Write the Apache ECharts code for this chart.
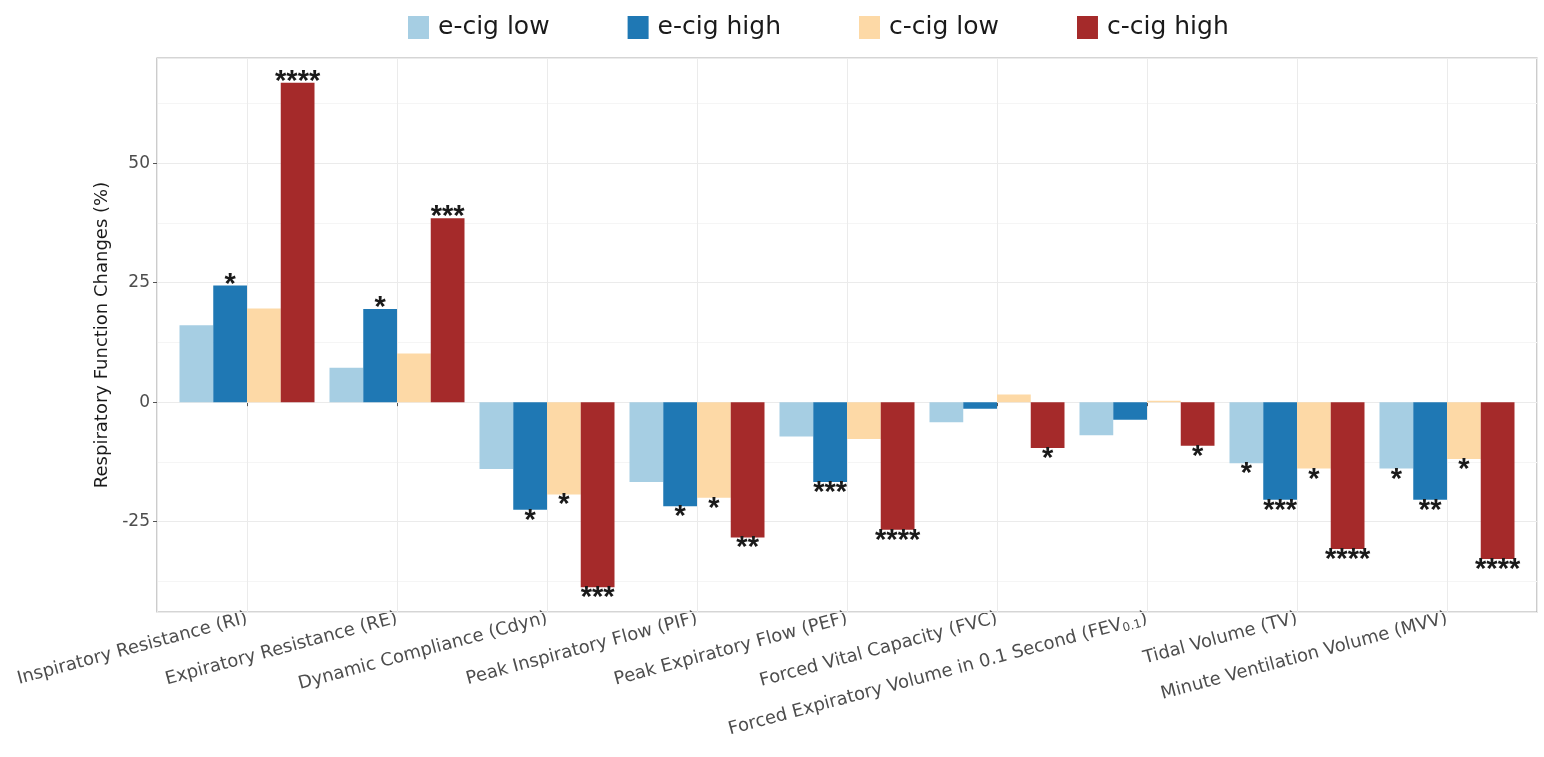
<!DOCTYPE html>
<html>
<head>
<meta charset="utf-8">
<script src="https://cdn.jsdelivr.net/npm/echarts@6/dist/echarts.min.js"></script>
<style>html,body{margin:0;padding:0;background:#fff;}#c{width:1544px;height:757px;}</style>
</head>
<body>
<div id="c"></div>
<script>
const categories = [
  'Inspiratory Resistance (RI)',
  'Expiratory Resistance (RE)',
  'Dynamic Compliance (Cdyn)',
  'Peak Inspiratory Flow (PIF)',
  'Peak Expiratory Flow (PEF)',
  'Forced Vital Capacity (FVC)',
  'Forced Expiratory Volume in 0.1 Second (FEV{sub|0.1})',
  'Tidal Volume (TV)',
  'Minute Ventilation Volume (MVV)'
];
const seriesNames = ['e-cig low', 'e-cig high', 'c-cig low', 'c-cig high'];
const eCigLow  = [16.1, 7.2, -14.0, -16.7, -7.2, -4.2, -6.9, -12.8, -13.9];
const eCigHigh = [24.4, 19.5, -22.5, -21.8, -16.7, -1.4, -3.7, -20.4, -20.4];
const cCigLow  = [19.6, 10.2, -19.3, -20.0, -7.7, 1.6, 0.3, -13.9, -11.9];
const cCigHigh = [66.8, 38.5, -38.7, -28.3, -26.7, -9.6, -9.1, -30.7, -32.8];
const eCigLowStars  = ['', '', '', '', '', '', '', '*', '*'];
const eCigHighStars = ['*', '*', '*', '*', '***', '', '', '***', '**'];
const cCigLowStars  = ['', '', '*', '*', '', '', '', '*', '*'];
const cCigHighStars = ['****', '***', '***', '**', '****', '*', '*', '****', '****'];
const colors = ['#a6cee3', '#1f78b4', '#fdd9a6', '#a52a2a'];

const values = [eCigLow, eCigHigh, cCigLow, cCigHigh];
const stars = [eCigLowStars, eCigHighStars, cCigLowStars, cCigHighStars];

const starStyle = {fontFamily: 'Liberation Sans', fontWeight: 'bold', fontSize: 29, color: '#1a1a1a', lineHeight: 12};

function makeData(vals, st) {
  return vals.map((v, i) => ({
    value: [i + 1, v],
    label: {
      show: st[i] !== '',
      position: v >= 0 ? 'top' : 'bottom',
      distance: v >= 0 ? -5 : 5,
      formatter: st[i],
      ...starStyle
    }
  }));
}

const chart = echarts.init(document.getElementById('c'), null, {renderer: 'canvas'});
chart.setOption({
  animation: false,
  color: colors,
  legend: {
    top: 10, left: 403, icon: 'rect', itemWidth: 21, itemHeight: 23, itemGap: 78,
    textStyle: {fontFamily: 'DejaVu Sans', fontSize: 25, color: '#1a1a1a', padding: [0, 0, 0, 4]},
    data: seriesNames
  },
  grid: {left: 157, right: 7, top: 58, bottom: 145, show: true, borderColor: '#ababab', borderWidth: 1.2, backgroundColor: 'transparent'},
  xAxis: {
    type: 'value', min: 0.4, max: 9.6, minInterval: 1, maxInterval: 1,
    axisLine: {show: false},
    axisTick: {show: true, length: 4, lineStyle: {color: '#555'}},
    splitLine: {show: true, lineStyle: {color: '#ebebeb', width: 1}},
    axisLabel: {
      rotate: 15, margin: 6, showMinLabel: false, showMaxLabel: false,
      fontFamily: 'DejaVu Sans', fontSize: 18, color: '#4d4d4d',
      formatter: v => (Math.abs(v - Math.round(v)) < 1e-6 && v >= 1 && v <= 9) ? categories[Math.round(v) - 1] : '',
      rich: {sub: {fontFamily: 'DejaVu Sans', fontSize: 12, color: '#4d4d4d', padding: [8, 0, 0, 0]}}
    }
  },
  yAxis: [{
    type: 'value', min: -43.9, max: 72, minInterval: 25, maxInterval: 25, z: 1,
    name: 'Respiratory Function Changes (%)', nameLocation: 'middle', nameGap: 41,
    nameTextStyle: {fontFamily: 'DejaVu Sans', fontSize: 18, color: '#1a1a1a'},
    axisLine: {show: false},
    axisTick: {show: true, length: 4, lineStyle: {color: '#555'}},
    splitLine: {show: true, lineStyle: {color: '#ebebeb', width: 1}},
    axisLabel: {
      margin: 7, fontFamily: 'DejaVu Sans', fontSize: 17, color: '#4d4d4d',
      showMinLabel: false, showMaxLabel: false,
      formatter: v => (v % 25 === 0) ? String(v) : ''
    }
  }, {
    type: 'value', min: -43.9, max: 72, minInterval: 12.5, maxInterval: 12.5, z: 0,
    position: 'left', show: true,
    axisLine: {show: false}, axisTick: {show: false}, axisLabel: {show: false},
    splitLine: {show: true, lineStyle: {color: '#f5f5f5', width: 1}}
  }],
  series: seriesNames.map((name, k) => ({
    name: name, type: 'bar', yAxisIndex: 0,
    barCategoryGap: '10%', barGap: '0%',
    itemStyle: {color: colors[k]},
    data: makeData(values[k], stars[k])
  }))
});
</script>
</body>
</html>
